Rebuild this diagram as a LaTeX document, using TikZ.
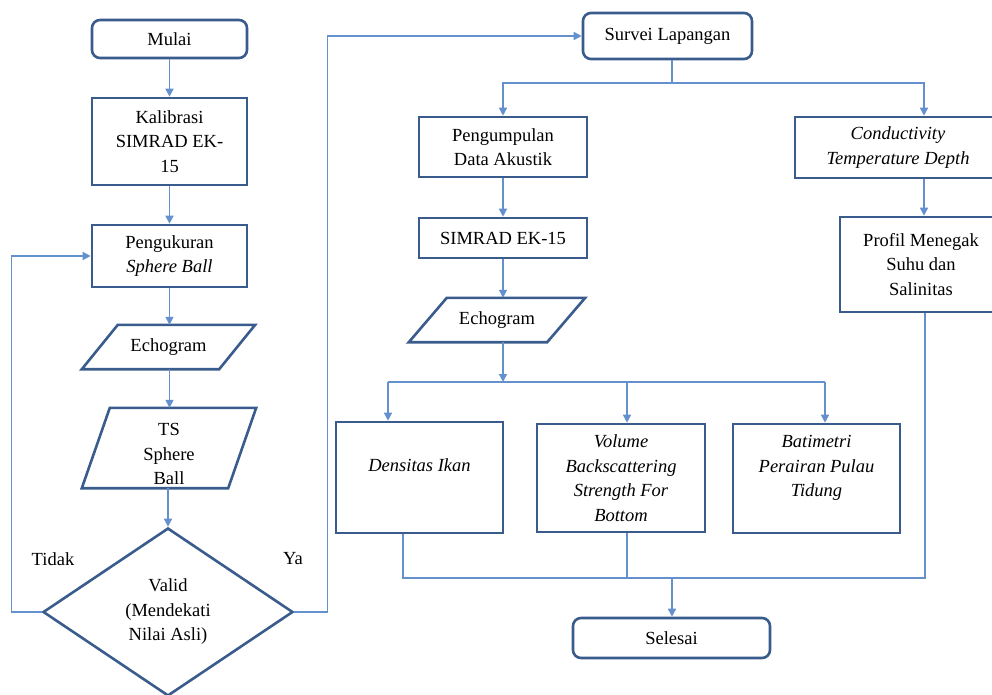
\documentclass[tikz,border=0pt]{standalone}
\usepackage{fontspec}
\setmainfont{Liberation Serif}
\usetikzlibrary{shapes.geometric,arrows.meta,calc}
\definecolor{bordc}{RGB}{58,92,140}
\definecolor{linec}{RGB}{100,145,205}
\begin{document}
\begin{tikzpicture}[x=1pt,y=-1pt,
  txt/.style={font=\fontsize{18.5}{24.5}\selectfont, align=center, inner sep=0pt},
  box/.style={txt, draw=bordc, line width=2.6pt, fill=white},
  rbox/.style={box, rounded corners=8pt},
  pbord/.style={draw=bordc, line width=2.6pt, line join=miter},
  conn/.style={draw=linec, line width=1.5pt},
  arr/.style={conn, -{Triangle[length=8pt,width=8pt]}},
]
\useasboundingbox (0,0) rectangle (992,695);

% ---------- left column ----------
\node[rbox, minimum width=155pt, minimum height=38pt] (mulai) at (169.5,39) {Mulai};
\node[box, minimum width=155pt, minimum height=87pt] (kal) at (169.5,141.5) {Kalibrasi\\SIMRAD EK-\\15};
\node[box, minimum width=155pt, minimum height=62pt] (peng) at (169.5,256) {Pengukuran\\\textit{Sphere Ball}};
\node[txt, minimum width=173pt, minimum height=44pt] (echo1) at (168.5,347) {Echogram};
\draw[pbord] ($(echo1.north west)+(36,0)$) -- (echo1.north east) -- ($(echo1.south east)+(-36,0)$) -- (echo1.south west) -- cycle;
\node[txt, minimum width=174pt, minimum height=80pt] (ts) at (169,448) {\mbox{}\\TS\\Sphere\\Ball};
\draw[pbord] ($(ts.north west)+(28,0)$) -- (ts.north east) -- ($(ts.south east)+(-28,0)$) -- (ts.south west) -- cycle;
\node[box, shape=diamond, minimum width=250pt, minimum height=168pt] (valid) at (168,612) {Valid\\(Mendekati\\Nilai Asli)};
\node[txt] (tidak) at (53,559) {Tidak};
\node[txt] (ya) at (293,559) {Ya};

% ---------- right part ----------
\node[rbox, minimum width=169pt, minimum height=46pt] (survei) at (667.5,36) {Survei Lapangan};
\node[box, minimum width=168pt, minimum height=60pt] (pengump) at (503,147) {Pengumpulan\\Data Akustik};
\node[box, minimum width=168pt, minimum height=40pt] (simrad) at (503,238) {SIMRAD EK-15};
\node[txt, minimum width=176pt, minimum height=44pt] (echo2) at (497,320) {Echogram};
\draw[pbord] ($(echo2.north west)+(38,0)$) -- (echo2.north east) -- ($(echo2.south east)+(-38,0)$) -- (echo2.south west) -- cycle;
\node[box, minimum width=206pt, minimum height=61pt] (ctd) at (898,147.5) {\textit{Conductivity}\\\textit{Temperature Depth}};
\node[box, minimum width=162pt, minimum height=95pt] (prof) at (921,264.5) {Profil Menegak\\Suhu dan\\Salinitas};
\node[box, minimum width=167pt, minimum height=111pt] (dens) at (419.5,477.5) {\textit{Densitas Ikan}\\\mbox{}};
\node[box, minimum width=168pt, minimum height=108pt] (vol) at (621,478) {\textit{Volume}\\\textit{Backscattering}\\\textit{Strength For}\\\textit{Bottom}};
\node[box, minimum width=167pt, minimum height=109pt] (bat) at (816.5,478.5) {\textit{Batimetri}\\\textit{Perairan Pulau}\\\textit{Tidung}\\\mbox{}};
\node[rbox, minimum width=197pt, minimum height=40pt] (sel) at (671.5,638) {Selesai};

% ---------- connectors, left ----------
\draw[arr] (mulai) -- (kal);
\draw[arr] (kal) -- (peng);
\draw[arr] (peng.south) -- (peng.south |- echo1.north);
\draw[arr] (echo1.south -| peng.south) -- (peng.south |- ts.north);
\draw[arr] (ts.south -| valid.north) -- (valid.north);
\draw[arr] (valid.west) -- ++(-30,0) |- (peng.west);
\draw[arr] (valid.east) -- ++(33,0) |- (survei.west);

% ---------- connectors, right ----------
\coordinate (sb) at (672,83);
\coordinate (rb) at (924,83);
\draw[conn] (survei.south -| sb) -- (sb);
\draw[arr] (sb) -| (pengump.north);
\draw[arr] (sb) -- (rb) -- (rb |- ctd.north);
\draw[arr] (rb |- ctd.south) -- (rb |- prof.north);
\draw[arr] (pengump) -- (simrad);
\draw[arr] (simrad.south) -- (simrad.south |- echo2.north);

\coordinate (eb) at (503,382);
\coordinate (b1) at (388,382);
\coordinate (b2) at (627,382);
\coordinate (b3) at (825,382);
\draw[arr] (simrad.south |- echo2.south) -- (eb);
\draw[conn] (b1) -- (b3);
\draw[arr] (b1) -- (b1 |- dens.north);
\draw[arr] (b2) -- (b2 |- vol.north);
\draw[arr] (b3) -- (b3 |- bat.north);

\coordinate (m1) at (403,578);
\coordinate (m2) at (627,578);
\coordinate (m3) at (925,578);
\coordinate (mm) at (672,578);
\draw[conn] (m1 |- dens.south) -- (m1) -- (m3) -- (m3 |- prof.south);
\draw[conn] (m2 |- vol.south) -- (m2);
\draw[arr] (mm) -- (mm |- sel.north);
\end{tikzpicture}
\end{document}
